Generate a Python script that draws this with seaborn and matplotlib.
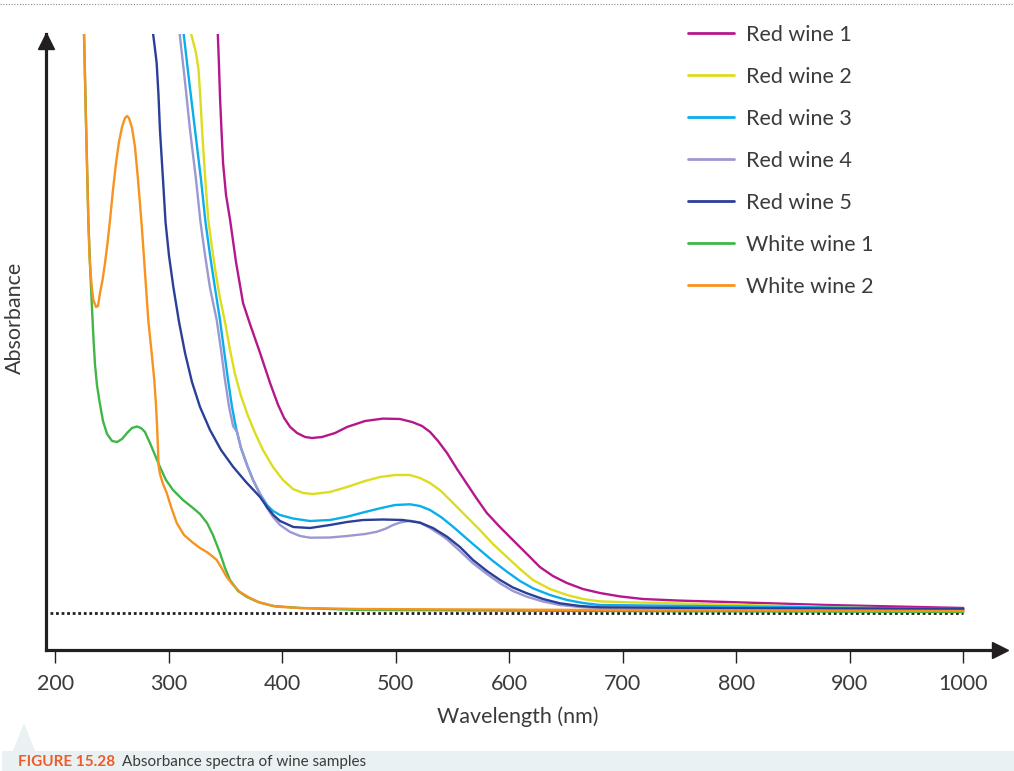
import matplotlib
matplotlib.use("Agg")
import numpy as np
import pandas as pd
import matplotlib.pyplot as plt
import matplotlib.transforms as mtransforms
from matplotlib.lines import Line2D
from matplotlib.patches import Rectangle, Polygon
import seaborn as sns

# ---- data (wavelength in nm, absorbance in arbitrary units) ----
red1_nm = [342.8, 344.2, 345.1, 346.4, 347.8, 350.4, 354.0, 359.2, 365.4, 371.5, 380.4, 389.2, 396.3, 401.6,
           406.9, 413.0, 420.0, 426.2, 435.0, 446.5, 457.0, 472.9, 488.7, 503.7, 514.3, 523.1, 530.2, 537.2,
           545.1, 553.9, 562.7, 571.5, 580.2, 591.7, 603.1, 615.5, 626.9, 638.4, 650.7, 664.8, 679.8, 697.4,
           717.7, 750.0, 791.7, 879.8, 1000]
red1_abs = [2.95, 2.74, 2.58, 2.415, 2.25, 2.09, 1.965, 1.755, 1.55, 1.445, 1.30, 1.15, 1.04, 0.975,
            0.93, 0.90, 0.88, 0.875, 0.88, 0.90, 0.93, 0.96, 0.972, 0.97, 0.955, 0.935, 0.905, 0.86,
            0.80, 0.72, 0.645, 0.57, 0.50, 0.43, 0.365, 0.295, 0.23, 0.185, 0.15, 0.12, 0.10, 0.083,
            0.07, 0.062, 0.055, 0.04, 0.025]

red2_nm = [318.5, 321.3, 324.0, 326.2, 327.9, 329.3, 331.0, 332.8, 334.8, 338.1, 341.6, 345.1, 349.5, 353.9,
           358.3, 363.6, 369.8, 376.0, 383.0, 391.8, 400.6, 409.4, 418.3, 427.0, 442.0, 457.0, 472.9, 486.1,
           499.3, 512.5, 521.3, 530.1, 539.8, 550.4, 561.8, 574.1, 585.6, 597.9, 609.4, 620.8, 635.8, 650.8,
           664.9, 679.8, 706.3, 732.7, 807.6, 879.8, 1000]
red2_abs = [2.92, 2.86, 2.80, 2.715, 2.565, 2.415, 2.265, 2.115, 1.965, 1.825, 1.69, 1.575, 1.455, 1.315,
            1.195, 1.085, 0.985, 0.90, 0.815, 0.73, 0.665, 0.62, 0.60, 0.595, 0.605, 0.63, 0.66, 0.68,
            0.69, 0.69, 0.675, 0.65, 0.61, 0.55, 0.485, 0.415, 0.345, 0.28, 0.22, 0.165, 0.12, 0.09,
            0.07, 0.058, 0.053, 0.05, 0.04, 0.03, 0.015]

red3_nm = [312.6, 317.8, 323.1, 328.4, 332.3, 336.3, 340.7, 345.1, 348.6, 352.2, 355.7, 359.2, 363.6, 368.9,
           374.2, 380.4, 386.5, 391.8, 398.0, 409.4, 424.4, 442.0, 457.0, 472.9, 486.1, 499.3, 512.5, 521.3,
           530.1, 539.8, 550.4, 561.8, 574.1, 585.6, 597.9, 609.4, 620.8, 635.8, 650.8, 664.9, 679.8, 761.7, 1000]
red3_abs = [2.92, 2.665, 2.415, 2.165, 1.955, 1.79, 1.625, 1.465, 1.315, 1.165, 1.03, 0.925, 0.825, 0.74,
            0.665, 0.595, 0.54, 0.51, 0.49, 0.4725, 0.46, 0.465, 0.4815, 0.505, 0.5235, 0.54, 0.5435, 0.535,
            0.515, 0.48, 0.4315, 0.375, 0.315, 0.26, 0.2065, 0.16, 0.1235, 0.09, 0.065, 0.05, 0.04, 0.035, 0.02]

red4_nm = [309.1, 314.3, 318.7, 324.0, 327.9, 331.9, 336.3, 342.2, 346.0, 349.5, 353.1, 356.6, 360.1, 363.6,
           368.9, 374.2, 380.4, 386.5, 391.8, 398.0, 406.9, 415.7, 424.4, 442.0, 457.0, 472.9, 483.5, 491.4,
           497.6, 503.8, 512.5, 521.3, 530.1, 539.8, 545.1, 556.5, 568.0, 580.3, 591.8, 603.2, 615.5, 629.6,
           644.6, 662.3, 679.8, 767.9, 1000]
red4_abs = [2.92, 2.655, 2.415, 2.165, 1.955, 1.79, 1.625, 1.465, 1.315, 1.165, 1.03, 0.935, 0.905, 0.825,
            0.74, 0.665, 0.595, 0.525, 0.48, 0.44, 0.405, 0.385, 0.3765, 0.3775, 0.385, 0.395, 0.4065, 0.4225,
            0.44, 0.4525, 0.4615, 0.4525, 0.425, 0.39, 0.3685, 0.31, 0.2485, 0.195, 0.1485, 0.11, 0.0815, 0.0575,
            0.04, 0.03, 0.0235, 0.02, 0.01]

red5_nm = [285.6, 287.4, 289.3, 290.9, 292.2, 294.9, 297.1, 300.2, 304.0, 309.0, 314.3, 320.4, 327.5, 336.3,
           346.0, 356.8, 368.0, 380.4, 386.5, 392.1, 398.0, 409.7, 424.4, 442.0, 457.0, 471.1, 488.7, 506.3,
           521.3, 532.7, 545.1, 556.5, 568.0, 580.3, 591.8, 603.2, 615.5, 629.6, 644.6, 662.3, 679.8, 767.9, 1000]
red5_abs = [2.92, 2.84, 2.75, 2.59, 2.415, 2.165, 1.955, 1.785, 1.63, 1.455, 1.30, 1.155, 1.03, 0.915,
            0.815, 0.73, 0.655, 0.58, 0.53, 0.49, 0.46, 0.43, 0.425, 0.44, 0.455, 0.465, 0.4675, 0.465,
            0.4515, 0.425, 0.3815, 0.33, 0.265, 0.21, 0.165, 0.1275, 0.0985, 0.07, 0.0485, 0.035, 0.0285, 0.025, 0.02]

white1_nm = [225.2, 227.0, 229.1, 230.6, 232.1, 233.7, 235.0, 236.7, 239.0, 242.0, 245.6, 250.0, 254.4, 258.8,
             263.2, 267.6, 272.0, 275.5, 279.0, 283.4, 287.8, 292.2, 297.5, 303.7, 312.5, 321.3, 327.5, 333.7,
             338.9, 345.1, 349.5, 353.9, 361.0, 368.9, 378.6, 391.8, 415.6, 468.5, 679.9, 1000]
white1_abs = [2.92, 2.465, 1.965, 1.74, 1.55, 1.365, 1.24, 1.14, 1.055, 0.96, 0.895, 0.86, 0.855, 0.87,
              0.90, 0.925, 0.9325, 0.925, 0.905, 0.85, 0.79, 0.73, 0.665, 0.615, 0.565, 0.525, 0.495, 0.45,
              0.39, 0.30, 0.225, 0.165, 0.11, 0.08, 0.055, 0.035, 0.025, 0.015, 0.01, 0.005]

white2_nm = [225.2, 227.0, 229.1, 230.0, 231.0, 232.1, 233.5, 235.9, 237.6, 239.4, 241.6, 243.8, 246.0, 248.2,
             250.8, 253.5, 256.1, 258.8, 261.4, 263.2, 264.9, 267.6, 270.2, 272.9, 276.1, 279.0, 281.9, 284.8,
             287.2, 288.7, 289.6, 290.5, 290.9, 292.2, 294.9, 298.2, 302.0, 307.0, 313.4, 321.6, 327.5, 333.4,
             338.1, 342.2, 346.0, 351.0, 356.6, 362.7, 371.5, 380.4, 395.1, 415.6, 468.5, 679.9, 1000]
white2_abs = [2.92, 2.465, 1.965, 1.80, 1.705, 1.63, 1.565, 1.53, 1.535, 1.60, 1.665, 1.75, 1.85, 1.965,
              2.115, 2.25, 2.355, 2.43, 2.475, 2.485, 2.475, 2.425, 2.33, 2.165, 1.94, 1.705, 1.465, 1.305,
              1.165, 1.04, 0.94, 0.815, 0.74, 0.695, 0.645, 0.60, 0.53, 0.45, 0.39, 0.35, 0.325, 0.305,
              0.285, 0.265, 0.23, 0.18, 0.14, 0.105, 0.075, 0.0515, 0.0315, 0.025, 0.02, 0.015, 0.01]

names = ["Red wine 1", "Red wine 2", "Red wine 3", "Red wine 4", "Red wine 5", "White wine 1", "White wine 2"]
colors = ["#b5178c", "#dedc1e", "#0aaeea", "#9c98d2", "#2a3f98", "#41b548", "#f7931e"]
x_ticks = [200, 300, 400, 500, 600, 700, 800, 900, 1000]

series = [(red1_nm, red1_abs), (red2_nm, red2_abs), (red3_nm, red3_abs), (red4_nm, red4_abs),
          (red5_nm, red5_abs), (white1_nm, white1_abs), (white2_nm, white2_abs)]
df = pd.concat([pd.DataFrame({"Wavelength": nm, "Absorbance": ab, "Sample": n})
                for n, (nm, ab) in zip(names, series)], ignore_index=True)

sns.set_theme(style="white")
plt.rcParams["font.family"] = ["Lato", "DejaVu Sans"]
txt = "#3b3b3b"
ink = "#231f20"

W, H = 1014, 771
fig = plt.figure(figsize=(W / 100, H / 100), dpi=100)
ax = fig.add_axes([46 / W, (H - 650) / H, (1000 - 46) / W, (650 - 34) / H])

sns.lineplot(data=df, x="Wavelength", y="Absorbance", hue="Sample", hue_order=names,
             palette=dict(zip(names, colors)), estimator=None, sort=False, lw=1.7,
             solid_joinstyle="round", ax=ax)

# dotted zero line
ax.hlines(0, 195, 1000, colors=ink, linestyles=(0, (1, 1)), lw=2.0, zorder=1)

ax.set_xlim(191.8, 1032.3)
ax.set_ylim(-0.185, 2.895)
ax.set_xticks(x_ticks)
ax.set_yticks([])
ax.tick_params(axis="x", direction="out", length=9.5, width=1.0, color=ink, pad=8,
               labelsize=15.5, labelcolor=txt, bottom=True)
sns.despine(ax=ax)
for s in ["left", "bottom"]:
    ax.spines[s].set_linewidth(2.3)
    ax.spines[s].set_color(ink)

# arrow heads on the axes
ax.plot(1, 0, marker=">", ms=11, color=ink, transform=ax.transAxes, clip_on=False)
up = mtransforms.offset_copy(ax.transAxes, fig=fig, y=-7, units="dots")
ax.plot(0, 1, marker="^", ms=11, color=ink, transform=up, clip_on=False)

ax.set_xlabel("Wavelength (nm)", fontsize=15.5, color=txt)
ax.set_ylabel("Absorbance", fontsize=15.5, color=txt)
ax.xaxis.set_label_coords((518 - 46) / 954, (650 - 717) / 616)
ax.xaxis.label.set_va("center")
ax.yaxis.set_label_coords((15 - 46) / 954, (650 - 318) / 616)
ax.yaxis.label.set_va("center")

leg = ax.legend(loc="upper left", bbox_to_anchor=(688 / W, 1 - 25 / H), bbox_transform=fig.transFigure,
                frameon=False, fontsize=15.5, handlelength=2.15, handletextpad=0.55,
                labelspacing=1.02, borderpad=0, borderaxespad=0)
for t in leg.get_texts():
    t.set_color(txt)
for h in leg.get_lines():
    h.set_linewidth(2.0)

# page decorations: dotted top rule and caption panel
fig.add_artist(Line2D([0, 1], [1 - 4 / H] * 2, transform=fig.transFigure,
                      ls=(0, (1, 1.5)), lw=0.8, color="#8a8a8a"))
panel = "#e9f1f3"
fig.add_artist(Rectangle((2 / W, 0), 1, 20 / H, transform=fig.transFigure, color=panel, lw=0))
fig.add_artist(Polygon([(13 / W, 20 / H), (35 / W, 20 / H), (24 / W, 48 / H)],
                       closed=True, transform=fig.transFigure, color=panel, lw=0))
fig.text(18 / W, 5 / H, "FIGURE 15.28", fontsize=11, fontweight="bold", color="#f05a28", va="baseline")
fig.text(122 / W, 5 / H, "Absorbance spectra of wine samples", fontsize=11, color=txt, va="baseline")

fig.savefig("out.png", dpi=100)
